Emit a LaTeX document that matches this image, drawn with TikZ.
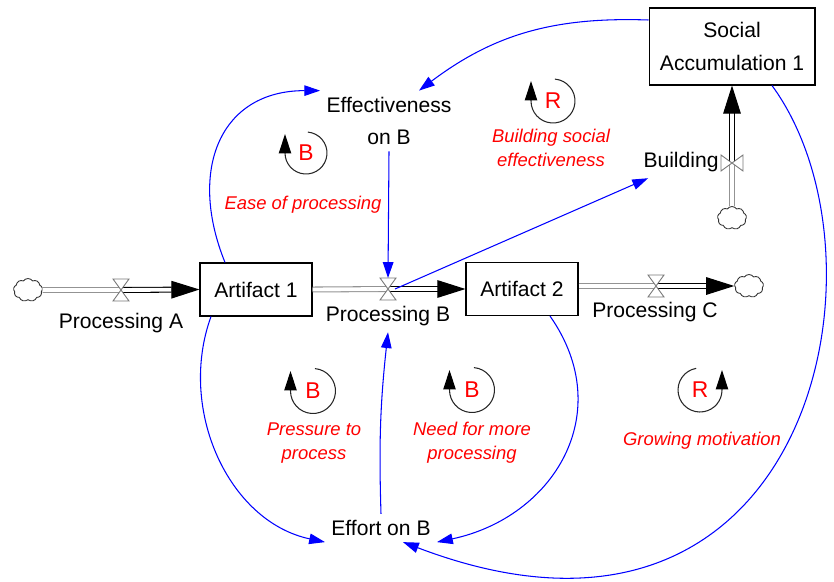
\documentclass[tikz,border=0pt]{standalone}
\usepackage{fontspec}
\setmainfont{Liberation Sans}
\usetikzlibrary{arrows.meta, shapes.symbols}
\definecolor{vblue}{RGB}{0,0,255}
\definecolor{vred}{RGB}{255,0,0}
\definecolor{vgrey}{RGB}{120,120,120}
\tikzset{
  every picture/.style={line width=0.6pt},
  stock/.style={draw, fill=white, align=center, font=\fontsize{12}{18.5}\selectfont},
  var/.style={align=center, font=\fontsize{12}{18.5}\selectfont},
  cloudnode/.style={cloud, draw=black!80, cloud puffs=9, cloud puff arc=110, aspect=1.3, minimum width=0.58cm, minimum height=0.46cm, inner sep=0pt, line width=0.5pt},
  pipein/.style={draw=vgrey!80, double=white, double distance=2.2pt, line width=0.6pt},
  pipeout/.style={draw=black, double=white, double distance=2.2pt, line width=0.6pt, -{Triangle[length=16pt,width=10pt]}},
  link/.style={draw=vblue, line width=0.6pt, -{Triangle[length=9pt,width=6pt]}},
  looparc/.style={draw=black!85, line width=0.6pt, -{Triangle[length=11pt,width=7pt, color=black]}},
  polarity/.style={text=vred, font=\fontsize{13}{15}\selectfont},
  looplabel/.style={text=vred, align=center, font=\fontsize{10.5}{13.6}\selectfont\itshape},
  valve/.pic={\filldraw[draw=vgrey, fill=white, line width=0.5pt] (-8,11) -- (8,11) -- (0,0) -- cycle (-8,-11) -- (8,-11) -- (0,0) -- cycle;},
}

\begin{document}
\begin{tikzpicture}[x=0.02cm, y=0.02cm]
  \useasboundingbox (0,0) rectangle (834,-581);
  % ---- stocks and variables ----
  \node[stock, minimum width=2.24cm, minimum height=1.06cm] (art1) at (256,-289.5) {Artifact 1};
  \node[stock, minimum width=2.24cm, minimum height=1.06cm] (art2) at (522,-289) {Artifact 2};
  \node[stock, minimum width=3.32cm, minimum height=1.54cm] (soc) at (732,-46.5) {Social\\Accumulation 1};
  \node[var] (eff) at (389,-121) {Effectiveness\\on B};
  \node[var] (effort) at (381,-528) {Effort on B};
  % ---- clouds and valves ----
  \node[cloudnode] (srcA) at (28,-290) {};
  \node[cloudnode] (sinkC) at (749,-286) {};
  \node[cloudnode] (srcBld) at (732,-218) {};
  \coordinate (vA) at (121,-290);
  \coordinate (vB) at (388,-289);
  \coordinate (vC) at (656,-286);
  \coordinate (vBld) at (732,-163);
  % ---- flows ----
  \draw[pipein] (srcA.east) -- (vA);
  \draw[pipeout] (vA) -- (art1.west);
  \draw[pipein] (art1.east) -- (vB);
  \draw[pipeout] (vB) -- (art2.west);
  \draw[pipein] (art2.east |- vC) -- (vC);
  \draw[pipeout] (vC) -- (sinkC.west);
  \draw[pipein] (srcBld.north) -- (vBld);
  \draw[pipeout] (vBld) -- (soc.south);
  \pic at (vA) {valve};
  \pic at (vB) {valve};
  \pic at (vC) {valve};
  \pic[rotate=90] at (vBld) {valve};
  \node[var] (lblA) at (121,-323) {Processing A};
  \node[var] (lblB) at (388,-316) {Processing B};
  \node[var] (lblC) at (655,-312) {Processing C};
  \node[var] (bld) at (681,-162) {Building};
  % ---- causal links ----
  \draw[link] ([yshift=0.53cm]soc.west) to[out=178, in=37] ([xshift=0.6cm]eff.north);
  \draw[link] ([xshift=-0.62cm]art1.north) to[out=112, in=180, looseness=1.3] (eff.north west);
  \draw[link] (eff.south) -- ([yshift=0.22cm]vB);
  \draw[link] ([xshift=0.14cm]vB) -- ([xshift=0.22cm]bld.south west);
  \draw[link] ([xshift=-0.9cm]art1.south) to[out=250, in=168] (effort.south west);
  \draw[link] (effort.north) to[bend left=4] (lblB.south);
  \draw[link] ([xshift=0.56cm]art2.south) to[out=-55, in=12, looseness=1.2] (effort.south east);
  \draw[link] ([xshift=0.8cm]soc.south) .. controls +(128,-175) and +(407,-155) .. ([xshift=-0.68cm]effort.south east);
  % ---- loop markers ----
  \node[polarity] (pB1) at (306,-153) {B};
  \draw[looparc] ([shift={(85:0.42cm)}]pB1.center) arc[start angle=85, end angle=-180, radius=0.42cm] -- ++(0,0.38cm);
  \node[looplabel] (ease) at (303,-205) {Ease of processing};
  \node[polarity] (pR1) at (553,-101) {R};
  \draw[looparc] ([shift={(85:0.44cm)}]pR1.center) arc[start angle=85, end angle=-180, radius=0.44cm] -- ++(0,0.4cm);
  \node[looplabel] (bse) at (551,-148) {Building social\\effectiveness};
  \node[polarity] (pB2) at (313,-391) {B};
  \draw[looparc] ([shift={(85:0.45cm)}]pB2.center) arc[start angle=85, end angle=-180, radius=0.45cm] -- ++(0,0.4cm);
  \node[looplabel] (ptp) at (314,-443) {Pressure to\\process};
  \node[polarity] (pB3) at (472,-390) {B};
  \draw[looparc] ([shift={(85:0.45cm)}]pB3.center) arc[start angle=85, end angle=-180, radius=0.45cm] -- ++(0,0.4cm);
  \node[looplabel] (nfm) at (472,-443) {Need for more\\processing};
  \node[polarity] (pR2) at (700,-390) {R};
  \draw[looparc] ([shift={(100:0.44cm)}]pR2.center) arc[start angle=100, end angle=360, radius=0.44cm] -- ++(0,0.4cm);
  \node[looplabel] (gm) at (702,-441) {Growing motivation};
\end{tikzpicture}
\end{document}
